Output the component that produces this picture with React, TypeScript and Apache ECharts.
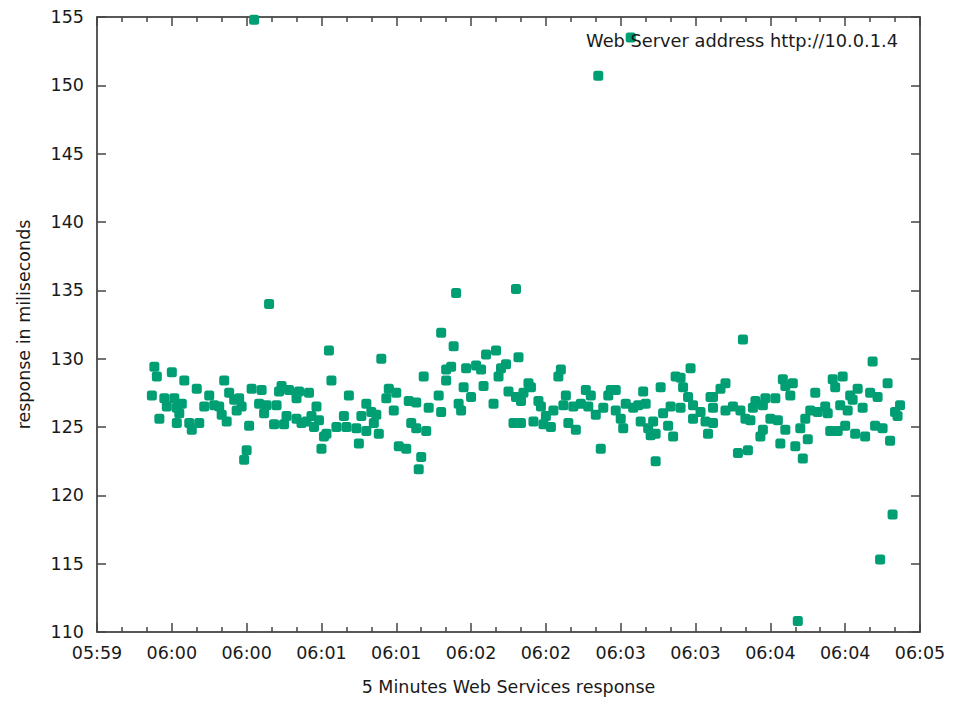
import React, { useEffect, useRef } from "react";
import * as echarts from "echarts";

// ---- data ----
const seriesName = "Web Server address http://10.0.1.4";
const xTitle = "5 Minutes Web Services response";
const yTitle = "response in miliseconds";

const xStart = "05:59:30";
const xEnd = "06:05:00";
const xStepSeconds = 30;

const yMin = 110;
const yMax = 155;
const yStep = 5;

// [time of sample, response in ms]
const samples: [string, number][] = [
  ["05:59:52", 127.3], ["05:59:53", 129.4], ["05:59:54", 128.7], ["05:59:55", 125.6], ["05:59:57", 127.1], ["05:59:58", 126.5],
  ["06:00:00", 129.0], ["06:00:01", 127.1], ["06:00:02", 126.4], ["06:00:02", 125.3], ["06:00:03", 126.0], ["06:00:04", 126.7], ["06:00:05", 128.4], ["06:00:07", 125.3], ["06:00:08", 124.8],
  ["06:00:10", 127.8], ["06:00:11", 125.3], ["06:00:13", 126.5], ["06:00:15", 127.3], ["06:00:17", 126.6], ["06:00:19", 126.5],
  ["06:00:20", 125.9], ["06:00:21", 128.4], ["06:00:22", 125.4], ["06:00:23", 127.5], ["06:00:25", 127.0], ["06:00:26", 126.2], ["06:00:27", 127.1], ["06:00:28", 126.5], ["06:00:29", 122.6],
  ["06:00:30", 123.3], ["06:00:31", 125.1], ["06:00:32", 127.8], ["06:00:33", 154.8], ["06:00:35", 126.7], ["06:00:36", 127.7], ["06:00:37", 126.0], ["06:00:38", 126.6], ["06:00:39", 134.0],
  ["06:00:41", 125.2], ["06:00:42", 126.6], ["06:00:43", 127.6], ["06:00:44", 128.0], ["06:00:45", 125.2], ["06:00:46", 125.8], ["06:00:47", 127.7],
  ["06:00:50", 127.1], ["06:00:50", 125.6], ["06:00:51", 127.6], ["06:00:52", 125.3], ["06:00:54", 125.4], ["06:00:55", 127.5], ["06:00:56", 125.8], ["06:00:57", 125.0], ["06:00:58", 126.5], ["06:00:59", 125.5],
  ["06:01:00", 123.4], ["06:01:01", 124.3], ["06:01:02", 124.5], ["06:01:03", 130.6], ["06:01:04", 128.4], ["06:01:06", 125.0], ["06:01:09", 125.8],
  ["06:01:10", 125.0], ["06:01:11", 127.3], ["06:01:14", 124.9], ["06:01:15", 123.8], ["06:01:16", 125.8], ["06:01:18", 126.7], ["06:01:18", 124.7],
  ["06:01:20", 126.1], ["06:01:21", 125.3], ["06:01:22", 125.9], ["06:01:23", 124.5], ["06:01:24", 130.0], ["06:01:26", 127.1], ["06:01:27", 127.8], ["06:01:29", 126.2],
  ["06:01:30", 127.5], ["06:01:31", 123.6], ["06:01:34", 123.4], ["06:01:35", 126.9], ["06:01:36", 125.3], ["06:01:38", 126.8], ["06:01:38", 124.9], ["06:01:39", 121.9],
  ["06:01:40", 122.8], ["06:01:41", 128.7], ["06:01:42", 124.7], ["06:01:43", 126.4], ["06:01:47", 127.3], ["06:01:48", 126.1], ["06:01:48", 131.9],
  ["06:01:50", 128.4], ["06:01:50", 129.2], ["06:01:52", 129.4], ["06:01:53", 130.9], ["06:01:54", 134.8], ["06:01:55", 126.7], ["06:01:56", 126.2], ["06:01:57", 127.9], ["06:01:58", 129.3],
  ["06:02:00", 127.2], ["06:02:02", 129.5], ["06:02:04", 129.2], ["06:02:05", 128.0], ["06:02:06", 130.3], ["06:02:09", 126.7],
  ["06:02:10", 130.6], ["06:02:11", 128.7], ["06:02:12", 129.3], ["06:02:14", 129.6], ["06:02:15", 127.6], ["06:02:17", 125.3], ["06:02:18", 135.1], ["06:02:18", 127.2], ["06:02:19", 130.1],
  ["06:02:20", 125.3], ["06:02:20", 126.9], ["06:02:21", 127.5], ["06:02:23", 128.2], ["06:02:24", 127.9], ["06:02:25", 125.4], ["06:02:27", 126.9], ["06:02:28", 126.5], ["06:02:29", 125.2],
  ["06:02:30", 125.8], ["06:02:32", 125.0], ["06:02:33", 126.2], ["06:02:35", 128.7], ["06:02:36", 129.2], ["06:02:37", 126.6], ["06:02:38", 127.3], ["06:02:39", 125.3],
  ["06:02:41", 126.5], ["06:02:42", 124.8], ["06:02:44", 126.7], ["06:02:46", 127.7], ["06:02:47", 126.5], ["06:02:48", 127.3],
  ["06:02:50", 125.9], ["06:02:51", 150.7], ["06:02:52", 123.4], ["06:02:53", 126.4], ["06:02:55", 127.3], ["06:02:56", 127.7], ["06:02:58", 126.2], ["06:02:58", 127.7],
  ["06:03:00", 125.6], ["06:03:01", 124.9], ["06:03:02", 126.7], ["06:03:04", 153.5], ["06:03:05", 126.4], ["06:03:07", 126.6], ["06:03:08", 125.4], ["06:03:09", 127.6],
  ["06:03:10", 126.7], ["06:03:11", 124.9], ["06:03:12", 124.4], ["06:03:13", 125.4], ["06:03:14", 124.5], ["06:03:14", 122.5], ["06:03:16", 127.9], ["06:03:17", 126.0], ["06:03:19", 125.1],
  ["06:03:20", 126.5], ["06:03:21", 124.3], ["06:03:22", 128.7], ["06:03:24", 128.6], ["06:03:24", 126.4], ["06:03:25", 127.9], ["06:03:27", 127.2], ["06:03:28", 129.3], ["06:03:29", 126.6], ["06:03:29", 125.6],
  ["06:03:32", 126.1], ["06:03:34", 125.4], ["06:03:35", 124.5], ["06:03:36", 127.2], ["06:03:37", 127.2], ["06:03:37", 126.4], ["06:03:37", 125.3],
  ["06:03:40", 127.8], ["06:03:42", 128.2], ["06:03:42", 126.2], ["06:03:45", 126.5], ["06:03:47", 123.1], ["06:03:48", 126.2], ["06:03:49", 131.4],
  ["06:03:50", 125.6], ["06:03:51", 123.3], ["06:03:52", 125.5], ["06:03:53", 126.4], ["06:03:54", 126.9], ["06:03:56", 124.3], ["06:03:57", 126.6], ["06:03:57", 124.8], ["06:03:58", 127.1],
  ["06:04:00", 125.6], ["06:04:02", 127.1], ["06:04:03", 125.5], ["06:04:04", 123.8], ["06:04:05", 128.5], ["06:04:06", 128.0], ["06:04:06", 124.8], ["06:04:08", 127.3], ["06:04:09", 128.2],
  ["06:04:10", 123.6], ["06:04:11", 110.8], ["06:04:12", 124.9], ["06:04:13", 122.7], ["06:04:14", 125.6], ["06:04:15", 124.1], ["06:04:16", 126.2], ["06:04:18", 127.5], ["06:04:19", 126.1],
  ["06:04:22", 126.5], ["06:04:23", 126.0], ["06:04:24", 124.7], ["06:04:25", 128.5], ["06:04:26", 127.9], ["06:04:27", 124.7], ["06:04:28", 126.6], ["06:04:29", 128.7],
  ["06:04:30", 125.1], ["06:04:31", 126.2], ["06:04:32", 127.3], ["06:04:33", 127.0], ["06:04:34", 124.5], ["06:04:35", 127.8], ["06:04:37", 126.4], ["06:04:38", 124.3],
  ["06:04:40", 127.5], ["06:04:41", 129.8], ["06:04:42", 125.1], ["06:04:43", 127.2], ["06:04:44", 115.3], ["06:04:45", 124.9], ["06:04:47", 128.2], ["06:04:48", 124.0], ["06:04:49", 118.6],
  ["06:04:50", 126.1], ["06:04:51", 125.8], ["06:04:52", 126.6],
];

// ---- helpers ----
const toSeconds = (t: string): number => {
  const [h, m, s] = t.split(":").map(Number);
  return h * 3600 + m * 60 + s;
};
const pad = (n: number) => (n < 10 ? "0" + n : "" + n);
const toHHMM = (v: number): string => {
  const h = Math.floor(v / 3600);
  const m = Math.floor((v % 3600) / 60);
  return pad(h) + ":" + pad(m);
};

const FONT = "DejaVu Sans";
const TEXT = "#1a1a1a";
const AXIS = "#222222";
const TICK = "#444444";
const GREEN = "#009e73";
const FS = 17.5;

export default function App() {
  const ref = useRef<HTMLDivElement>(null);

  useEffect(() => {
    if (!ref.current) return;
    const chart = echarts.init(ref.current, null, { renderer: "svg" });

    const xMin = toSeconds(xStart);
    const xMax = toSeconds(xEnd);

    const axisLine = { show: true, onZero: false, lineStyle: { color: AXIS, width: 1.5 } };
    const majorTick = { show: true, inside: true, length: 9, lineStyle: { color: TICK, width: 1.5 } };
    const minorTick = { show: true, splitNumber: 3, length: 5, lineStyle: { color: TICK, width: 1.5 } };

    const baseX = {
      type: "value" as const,
      min: xMin,
      max: xMax,
      interval: xStepSeconds,
      axisLine,
      axisTick: majorTick,
      minorTick,
      splitLine: { show: false },
      minorSplitLine: { show: false },
    };
    const baseY = {
      type: "value" as const,
      min: yMin,
      max: yMax,
      interval: yStep,
      axisLine,
      axisTick: majorTick,
      splitLine: { show: false },
    };

    chart.setOption({
      animation: false,
      backgroundColor: "#ffffff",
      textStyle: { fontFamily: FONT },
      grid: { left: 97, right: 35, top: 17, bottom: 70, containLabel: false },
      legend: {
        data: [seriesName],
        right: 52,
        top: 25,
        icon: "rect",
        itemWidth: 0,
        itemHeight: 0,
        itemGap: 0,
        selectedMode: false,
        textStyle: { fontSize: 17.8, color: TEXT, fontFamily: FONT, lineHeight: 20 },
      },
      xAxis: [
        {
          ...baseX,
          position: "bottom",
          axisLabel: {
            show: true,
            formatter: (v: number) => toHHMM(v),
            fontSize: FS,
            color: TEXT,
            fontFamily: FONT,
            margin: 12,
          },
          name: xTitle,
          nameLocation: "middle",
          nameGap: 46,
          nameTextStyle: { fontSize: FS, color: TEXT, fontFamily: FONT },
        },
        {
          ...baseX,
          position: "top",
          axisLabel: { show: false },
        },
      ],
      yAxis: [
        {
          ...baseY,
          position: "left",
          axisLabel: {
            show: true,
            fontSize: FS,
            color: TEXT,
            fontFamily: FONT,
            margin: 13,
          },
          name: yTitle,
          nameLocation: "middle",
          nameGap: 64,
          nameTextStyle: { fontSize: FS, color: TEXT, fontFamily: FONT },
        },
        {
          ...baseY,
          position: "right",
          axisLabel: { show: false },
        },
      ],
      series: [
        {
          name: seriesName,
          type: "scatter",
          xAxisIndex: 0,
          yAxisIndex: 0,
          symbol: "roundRect",
          symbolSize: 10,
          itemStyle: { color: GREEN, opacity: 1 },
          data: samples.map(([t, v]) => [toSeconds(t), v]),
        },
      ],
    });

    return () => chart.dispose();
  }, []);

  return (
    <div
      ref={ref}
      style={{ position: "fixed", left: 0, top: 0, width: 955, height: 702, background: "#fff" }}
    />
  );
}
